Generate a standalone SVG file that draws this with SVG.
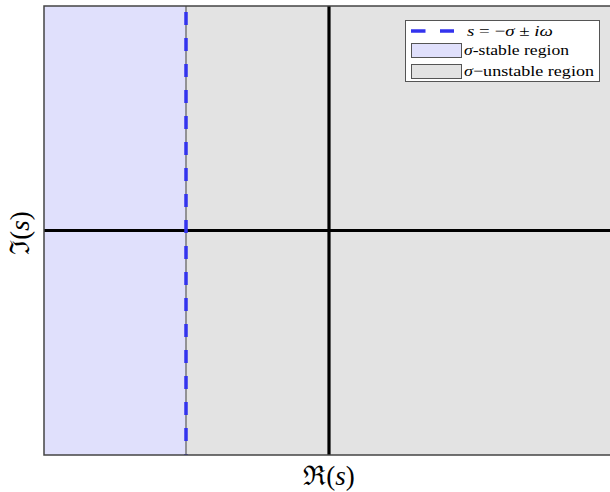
<svg xmlns="http://www.w3.org/2000/svg" width="610" height="492" viewBox="0 0 610 492">
<style>
.t{font-family:"Liberation Serif","DejaVu Serif",serif;fill:#000}
.m{font-style:italic}
.ax{stroke:#000;stroke-width:3.2}
.bl{stroke:#3333ee;stroke-width:3.5;stroke-dasharray:13 13}
</style>
<rect width="610" height="492" fill="#fff"/>
<g id="regions">
<rect x="44" y="6" width="142" height="449" fill="#e0e0fc"/>
<rect x="186" y="6" width="426" height="449" fill="#e3e3e3"/>
<line x1="186" y1="6" x2="186" y2="455" stroke="#777" stroke-width="1.5"/>
</g>
<g id="connectors">
<line class="ax" x1="329" y1="6" x2="329" y2="455"/>
<line class="ax" x1="44" y1="230.5" x2="610" y2="230.5"/>
<line class="bl" x1="186" y1="12" x2="186" y2="455"/>
</g>
<g id="frame">
<path d="M610,6 H44 V455 H610" fill="none" stroke="#444" stroke-width="1.5"/>
</g>
<g id="legend">
<rect x="405.5" y="20.5" width="194" height="61" fill="#fff" stroke="#555" stroke-width="1"/>
<line x1="411" y1="31" x2="454" y2="31" stroke="#3333ee" stroke-width="3.5" stroke-dasharray="14.5 14.5"/>
<text class="t" x="467" y="35.5" font-size="15" textLength="86" lengthAdjust="spacingAndGlyphs"><tspan class="m">s</tspan> = −<tspan class="m">σ</tspan> ± <tspan class="m">iω</tspan></text>
<rect x="411.5" y="43.5" width="50" height="14" fill="#e0e0fc" stroke="#555" stroke-width="1"/>
<text class="t" x="464" y="55" font-size="15" textLength="105" lengthAdjust="spacingAndGlyphs"><tspan class="m">σ</tspan>-stable region</text>
<rect x="411.5" y="64.5" width="50" height="14" fill="#e3e3e3" stroke="#555" stroke-width="1"/>
<text class="t" x="464" y="75.5" font-size="15" textLength="130" lengthAdjust="spacingAndGlyphs"><tspan class="m">σ</tspan>−unstable region</text>
</g>
<g id="labels">
<text class="t" x="329" y="485" font-size="27" text-anchor="middle">ℜ(<tspan class="m">s</tspan>)</text>
<text class="t" transform="translate(29,233) rotate(-90)" font-size="27" text-anchor="middle">ℑ(<tspan class="m">s</tspan>)</text>
</g>
</svg>
